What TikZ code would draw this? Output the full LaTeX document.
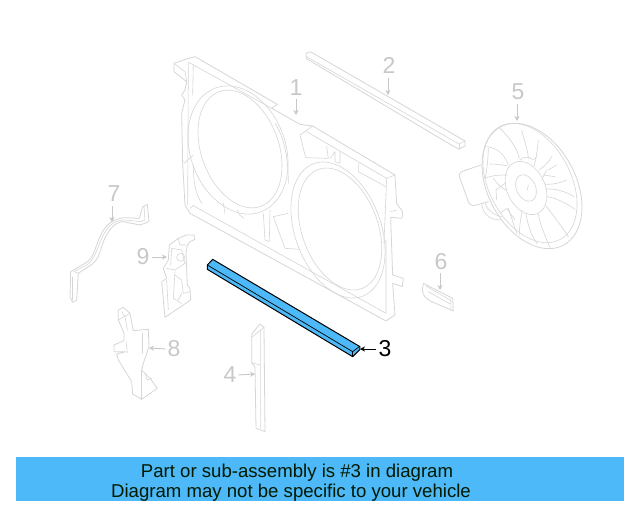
\documentclass[tikz,border=0pt]{standalone}
\usepackage{fontspec}
\setmainfont{Liberation Sans}
\usetikzlibrary{arrows.meta}
\definecolor{partgray}{HTML}{D6D6D6}
\definecolor{labgray}{HTML}{C8C8C8}
\definecolor{hilite}{HTML}{4DB9F8}
\tikzset{
  part/.style={draw=partgray,line width=0.8pt,line join=round,line cap=round},
  thin part/.style={draw=partgray,line width=0.6pt,line join=round,line cap=round},
  lab/.style={text=labgray,font=\fontsize{23}{23}\selectfont,inner sep=1pt},
  arr/.style={draw=labgray,line width=0.9pt,-{Stealth[length=5pt,width=5pt]},shorten <=1pt},
  hot/.style={draw=black,line width=1pt,line join=round,fill=hilite},
  hotline/.style={draw=black,line width=0.7pt},
  banner/.style={fill=hilite,draw=none,minimum width=608pt,minimum height=44pt,inner sep=0pt},
  bantext/.style={text=black!90!green,font=\fontsize{18.6}{18.6}\selectfont,inner sep=0pt,anchor=base}
}
\begin{document}
\begin{tikzpicture}[x=1pt,y=-1pt]
\useasboundingbox (0,0) rectangle (640,512);
\fill[white] (0,0) rectangle (640,512);

% Part 1: frame (coordinates read from a 3x crop at 160,40)
\draw[thin part,rotate around={-70:(238,150)}] (238,150) ellipse [x radius=66,y radius=47.5];
\draw[thin part,rotate around={-70:(240,149)}] (240,149) ellipse [x radius=61,y radius=38.8];
\draw[thin part,rotate around={-70:(338,230)}] (338,230) ellipse [x radius=70.7,y radius=43];
\draw[thin part,rotate around={-70:(340,229)}] (340,229) ellipse [x radius=63.4,y radius=38];
\begin{scope}[shift={(160,40)},x=0.3333pt,y=-0.3333pt]
  \draw[part] (42,70) -- (80,57) -- (105,50) -- (352,193) -- (335,205) -- (420,253) -- (458,258) -- (705,405)
     -- (710,490) -- (728,515) -- (726,535) -- (692,532) -- (698,705) -- (730,715) -- (727,740) -- (698,730) -- (705,825)
     -- (678,843) -- (90,520) -- (75,495) -- (68,370) -- (65,220) -- (75,180) -- (65,165) -- (75,150) -- (80,125) -- (42,95) -- cycle;
  \draw[thin part] (88,68) -- (335,205);
  \draw[thin part] (42,70) -- (75,95) -- (80,125);
  \draw[thin part] (85,65) -- (83,495);
  \draw[thin part] (100,75) -- (98,165);
  \draw[thin part] (100,497) -- (678,820) -- (678,600);
  \draw[thin part] (90,505) -- (100,497);
  \draw[thin part] (420,285) -- (458,258);
  \draw[thin part] (440,275) -- (680,415) -- (705,405);
  \draw[thin part] (680,415) -- (672,610);
  \draw[thin part] (420,285) -- (437,353) -- (505,355) -- (500,318);
  \draw[thin part] (510,355) -- (525,335) -- (525,365) -- (540,370) -- (540,335);
  \draw[thin part] (595,370) -- (595,395) -- (678,440);
  \draw[thin part] (692,515) -- (710,510);
  \draw[thin part] (310,520) -- (315,600) -- (328,605) -- (330,510);
  \draw[thin part] (340,530) -- (385,520) ;
  \draw[thin part] (340,530) -- (375,625) -- (420,628);
  \draw[thin part] (190,490) -- (195,520);
  \draw[thin part] (232,510) .. controls (235,525) and (245,530) .. (252,535);
  \draw[thin part] (100,375) .. controls (100,420) and (105,460) .. (125,490);
  \draw[thin part] (345,250) .. controls (370,290) and (385,340) .. (385,430);
  \draw[thin part] (72,370) -- (100,345);
\end{scope}

% Part 2: long strip
\draw[part] (306,56) .. controls (305,53) and (308,52) .. (311,52) -- (465,141) -- (465,146) -- (459,149) -- (453,146) -- (307,59) -- cycle;
\draw[thin part] (307,57) -- (459,144) -- (465,141);
\draw[thin part] (459,144) -- (459,149);

% Part 5: fan (3x crop at 400,40)
\begin{scope}[shift={(400,40)},x=0.3333pt,y=-0.3333pt]
  \draw[part] (243,375) -- (190,393) .. controls (178,398) and (175,405) .. (180,415) -- (205,485) .. controls (210,497) and (220,498) .. (230,495) -- (265,485);
  \draw[thin part] (245,490) .. controls (248,520) and (265,540) .. (305,540);
  \draw[thin part] (255,490) .. controls (262,510) and (280,525) .. (305,530);
  \draw[thin part] (255,320) .. controls (290,320) and (315,345) .. (325,375);
  \draw[thin part] (300,265) .. controls (325,290) and (350,320) .. (358,355);
  \draw[thin part] (365,270) .. controls (372,300) and (385,335) .. (385,355);
  \draw[thin part] (415,300) .. controls (412,330) and (408,355) .. (403,378);
  \draw[thin part] (455,350) .. controls (445,370) and (430,380) .. (418,390);
  \draw[thin part] (445,390) -- (470,375);
  \draw[thin part] (500,420) .. controls (480,430) and (450,435) .. (432,432);
  \draw[thin part] (522,470) .. controls (500,455) and (465,445) .. (438,447);
  \draw[thin part] (525,508) .. controls (500,490) and (470,475) .. (442,470);
  \draw[thin part] (505,590) .. controls (485,560) and (460,525) .. (438,498);
  \draw[thin part] (450,622) .. controls (435,590) and (420,550) .. (415,522);
  \draw[thin part] (412,612) .. controls (395,590) and (382,550) .. (378,522);
  \draw[thin part] (358,585) .. controls (358,560) and (362,535) .. (367,512);
  \draw[thin part] (265,325) .. controls (265,350) and (260,400) .. (255,415);
  \draw[thin part] (270,372) .. controls (290,372) and (310,375) .. (322,378);
  \draw[thin part] (255,415) .. controls (280,405) and (300,405) .. (322,405);
  \draw[thin part] (280,415) .. controls (290,430) and (305,445) .. (318,450);
  \draw[thin part] (288,450) -- (318,428);
  \draw[thin part] (290,480) -- (288,450);
  \draw[thin part] (300,520) -- (320,505) -- (345,540);
  \draw[thin part] (390,355) .. controls (395,360) and (405,360) .. (410,350);
  \draw[thin part] (360,360) .. controls (370,350) and (380,350) .. (392,355);
  \draw[thin part] (440,390) -- (425,420);
  \draw[thin part] (430,405) -- (465,410);
  \draw[thin part] (325,505) -- (350,580);
  \draw[thin part] (385,435) -- (382,450);
\end{scope}
\draw[part,rotate around={-62:(532,186)}] (532,186) ellipse [x radius=67,y radius=44];
\draw[thin part,rotate around={-62:(530,183)}] (530,183) ellipse [x radius=64,y radius=41];
\draw[thin part,rotate around={-65:(526,188)}] (526,188) ellipse [x radius=28,y radius=19];
\draw[thin part,rotate around={-65:(526,188)}] (526,188) ellipse [x radius=14,y radius=9.5];

% Part 6 (3x crop at 400,40)
\begin{scope}[shift={(400,40)},x=0.3333pt,y=-0.3333pt]
  \draw[part] (70,730) -- (158,775) -- (160,813) -- (95,785) .. controls (78,775) and (68,768) .. (67,750) -- cycle;
  \draw[thin part] (78,738) -- (150,780);
  \draw[thin part] (85,755) -- (150,792);
  \draw[thin part] (152,778) -- (153,810);
\end{scope}

% Parts 7, 9, 8 (3x crop at 50,170)
\begin{scope}[shift={(50,170)},x=0.3333pt,y=-0.3333pt]
  \draw[part] (62,305) -- (105,280) .. controls (135,265) and (135,225) .. (155,190) .. controls (170,160) and (195,145) .. (225,143)
     -- (268,145) -- (278,110) -- (292,103) -- (297,155) -- (270,165) -- (220,155) .. controls (195,155) and (175,180) .. (160,215)
     .. controls (150,245) and (145,275) .. (115,290) -- (85,310) -- (80,390) -- (68,397) -- (60,382) -- cycle;
  \draw[thin part] (72,305) -- (110,285) .. controls (135,270) and (145,225) .. (160,195) .. controls (175,165) and (195,150) .. (225,150) -- (272,155) -- (285,150) -- (282,110);
  \draw[thin part] (72,305) -- (85,310);
  \draw[thin part] (68,320) -- (68,390);
  % part 9
  \draw[part] (358,225) -- (385,205) -- (410,195) -- (432,195) -- (435,208) -- (420,215) -- (412,225) -- (408,250) -- (412,345) -- (420,355) -- (422,390) -- (345,442) -- (335,335) -- (350,325) -- (340,295) -- (355,270) -- cycle;
  \draw[thin part] (385,205) -- (390,225) -- (408,225);
  \draw[thin part] (365,235) -- (395,240) -- (405,280) -- (375,300) -- (350,295);
  \draw[thin part] (365,235) -- (362,285);
  \draw[thin part] (392,262) circle [radius=12];
  \draw[thin part] (375,305) -- (370,385) -- (395,400);
  \draw[thin part] (375,315) -- (395,330) -- (400,370) -- (420,365);
  \draw[thin part] (395,370) -- (385,390);
  \draw[thin part] (350,330) -- (355,420);
  % part 8
  \draw[part] (205,420) -- (220,412) -- (240,430) -- (250,482) -- (295,478) -- (297,530) -- (280,580) -- (275,600) -- (300,625) -- (322,655) -- (275,688) -- (248,672) -- (245,635) -- (205,570) -- (200,552) -- (228,545) -- (192,545) -- (192,525) -- (222,512) -- (222,490) -- (205,450) -- cycle;
  \draw[thin part] (205,450) -- (240,430);
  \draw[thin part] (215,425) -- (225,440) -- (232,480);
  \draw[thin part] (278,490) -- (278,550);
  \draw[thin part] (275,600) -- (275,688);
  \draw[thin part] (228,515) -- (232,548);
  \draw[thin part] (285,610) -- (292,630) -- (305,625);
\end{scope}

% Part 4 (3x crop at 200,250)
\begin{scope}[shift={(200,250)},x=0.3333pt,y=-0.3333pt]
  \draw[part] (155,252) -- (180,222) -- (192,232) -- (195,545) -- (168,535) -- (165,352) -- (155,338) -- cycle;
  \draw[thin part] (155,262) -- (182,240) -- (182,535);
  \draw[thin part] (182,240) -- (192,232);
  \draw[thin part] (155,338) -- (180,345);
\end{scope}

% Part 3: highlighted strip (3x crop at 200,250)
\begin{scope}[shift={(200,250)},x=0.3333pt,y=-0.3333pt]
  \draw[hot] (38,28) -- (480,290) -- (480,298) -- (458,320) -- (22,58) -- (22,45) -- cycle;
  \draw[hotline] (22,45) -- (458,305) -- (478,290);
  \draw[hotline] (458,305) -- (458,320);
\end{scope}

% Labels and leaders
\node[lab] (n1) at (296,88) {1};
\node[lab] (n2) at (389,65) {2};
\node[lab] (n4) at (230,375) {4};
\node[lab] (n5) at (518,92) {5};
\node[lab] (n6) at (441,262) {6};
\node[lab] (n7) at (114,194) {7};
\node[lab] (n8) at (174,349) {8};
\node[lab] (n9) at (143,257) {9};
\node[lab,text=black] (n3) at (385,349) {3};
\coordinate (t1) at (296,115);
\coordinate (t2) at (388,95);
\coordinate (t3) at (360,349);
\coordinate (t4) at (255,374);
\coordinate (t5) at (517,121);
\coordinate (t6) at (440,290);
\coordinate (t7) at (112,222);
\coordinate (t8) at (149,348);
\coordinate (t9) at (167,257);
\draw[arr] (296,98) -- (t1);
\draw[arr] (388,77) -- (t2);
\draw[arr] (n4.east) -- (t4);
\draw[arr] (517,103) -- (t5);
\draw[arr] (440,272) -- (t6);
\draw[arr] (112,205) -- (t7);
\draw[arr] (n8.west) -- (t8);
\draw[arr] (n9.east) -- (t9);
\draw[arr,draw=black] (n3.west) -- (t3);

% Banner
\node[banner,anchor=north west] (ban) at (16,457) {};
\node[bantext] (b1) at (297,477) {Part or sub-assembly is \#3 in diagram};
\node[bantext] (b2) at (291,497) {Diagram may not be specific to your vehicle};
\end{tikzpicture}
\end{document}
